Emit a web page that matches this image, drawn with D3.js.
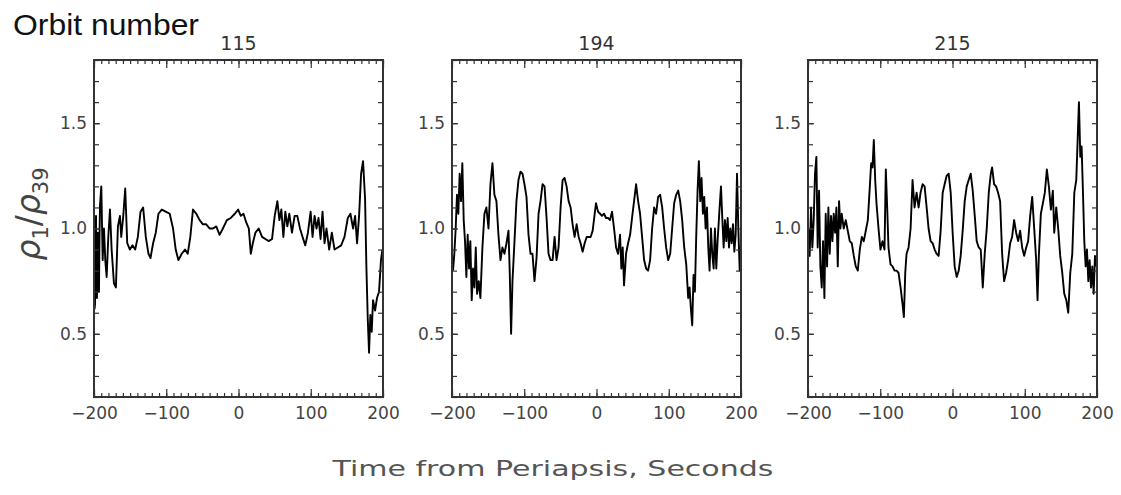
<!DOCTYPE html>
<html lang="en">
<head>
<meta charset="UTF-8">
<script src="https://d3js.org/d3.v7.min.js"></script>
<title>Orbit density ratio</title>
<style>
  body { margin: 0; background: #fff; }
  svg { display: block; }
</style>
</head>
<body>
<div id="chart"></div>
<script>

// orbit titles
const orbits = ["115", "194", "215"];

// tick values
const xMajorTicks = [-200, -100, 0, 100, 200];
const yMajorTicks = [0.5, 1.0, 1.5];

// [time (s), rho1/rho39]
const orbit115 = [
  [-200, 0.90], [-199.2, 0.62], [-198.6, 0.64], [-197.9, 0.95], [-197.2, 1.06], [-196.5, 0.72], [-195.9, 0.67],
  [-195.2, 0.88], [-194.5, 0.98], [-193.8, 0.75], [-193.1, 0.70], [-192.4, 0.95],
  [-191.7, 1.11], [-189.9, 1.20], [-188, 0.85], [-186.2, 1.00], [-184.4, 0.85], [-182.5, 0.77],
  [-180.2, 0.96], [-177.9, 1.09], [-175.6, 0.90], [-172.4, 0.74], [-169.7, 0.72], [-166.9, 1.01],
  [-164.1, 1.06], [-162.3, 0.96], [-159.5, 1.06], [-156.8, 1.19], [-154, 0.93], [-150.3, 0.90],
  [-146.7, 0.92], [-143, 0.90], [-139.3, 0.96], [-135.6, 1.08], [-132, 1.10], [-128.3, 0.96],
  [-124.6, 0.88], [-121.8, 0.86], [-118.2, 0.93], [-114.5, 0.98], [-110.8, 1.07], [-106.2, 1.09],
  [-100.7, 1.08], [-95.2, 1.07], [-90.6, 1.00], [-86.9, 0.90], [-83.2, 0.85], [-78.6, 0.88],
  [-74, 0.90], [-70.3, 0.88], [-66.7, 0.96], [-63, 1.09], [-58.4, 1.07], [-53.8, 1.04],
  [-49.2, 1.02], [-44.6, 1.02], [-40, 1.00], [-35.4, 1.00], [-30.8, 1.01], [-26.2, 0.97],
  [-21.6, 1.00], [-16.1, 1.04], [-10.6, 1.05], [-5.1, 1.07], [-0.5, 1.09], [3.2, 1.06],
  [6.9, 1.07], [10.6, 1.03], [14.3, 1.00], [17, 0.88], [19.8, 0.93], [23.4, 0.98],
  [28, 1.00], [32.6, 0.96], [37.2, 0.95], [41.8, 0.94], [46.4, 0.95], [50.1, 1.06],
  [53.8, 1.13], [56.6, 1.04], [59.3, 1.09], [62.1, 0.96], [64.8, 1.08], [67.6, 1.01],
  [70.3, 1.07], [74, 0.98], [77.7, 1.06], [81.4, 1.06], [85.1, 1.00], [88.7, 0.96],
  [92.4, 0.92], [96.1, 0.98], [99.8, 1.08], [102.5, 0.96], [105.3, 1.06], [108, 1.00],
  [110.8, 1.05], [113.6, 0.95], [116.3, 1.08], [119.1, 0.93], [121.8, 1.00], [125.5, 0.90],
  [129.2, 0.98], [132.9, 0.90], [137.5, 0.91], [142.1, 0.92], [146.7, 0.96], [151.3, 1.05],
  [154.9, 1.07], [158.6, 1.00], [161.4, 1.06], [164.1, 0.93], [166.9, 1.06], [169.7, 1.26],
  [172.4, 1.32], [175.2, 1.14], [177, 0.82], [178.9, 0.57], [180.7, 0.41], [182.5, 0.59],
  [184.4, 0.51], [186.2, 0.66], [189, 0.61], [191.7, 0.67], [194.5, 0.70], [197.2, 0.85],
  [199.1, 0.90]
];

const orbit194 = [
  [-198.6, 0.80], [-196.8, 0.88], [-194.9, 1.00], [-193.1, 1.16], [-191.2, 1.07], [-189.4, 1.26],
  [-187.5, 1.13], [-185.7, 1.31], [-183.8, 1.04], [-182, 0.94], [-180.1, 0.77], [-178.3, 0.97],
  [-176.4, 0.81], [-174.6, 0.94], [-172.7, 0.66], [-170.9, 0.81], [-169, 0.72], [-167.1, 0.91],
  [-165.3, 0.69], [-163, 0.75], [-160.7, 0.67], [-157.9, 0.91], [-155.1, 1.07], [-152.4, 1.10],
  [-149.5, 1.00], [-146.8, 1.21], [-144, 1.31], [-141.3, 1.16], [-138.5, 1.13], [-135.7, 0.97],
  [-132.9, 0.85], [-130.2, 0.91], [-127.4, 0.88], [-124.6, 0.93], [-121.8, 0.99], [-120, 0.78],
  [-118.2, 0.50], [-116.3, 0.75], [-113.5, 0.94], [-110.8, 1.13], [-108, 1.23], [-105.2, 1.27],
  [-102.4, 1.26], [-99.7, 1.21], [-96.9, 1.15], [-94.1, 0.97], [-91.3, 0.88], [-88.6, 0.88],
  [-85.8, 0.75], [-83, 0.86], [-80.2, 1.07], [-77.5, 1.13], [-74.7, 1.21], [-71.9, 1.20],
  [-69.1, 1.05], [-66.4, 0.88], [-63.6, 0.85], [-60.8, 0.85], [-58, 0.96], [-55.3, 0.85],
  [-52.5, 0.91], [-49.7, 1.10], [-46.9, 1.23], [-44.2, 1.24], [-41.4, 1.20], [-38.6, 1.13],
  [-35.8, 1.10], [-33.1, 1.02], [-30.3, 0.96], [-27.5, 1.02], [-24.7, 0.96], [-22, 0.93],
  [-19.2, 0.89], [-16.4, 0.93], [-13.6, 0.96], [-10.9, 0.96], [-8.1, 0.96], [-5.3, 0.99],
  [-2.5, 1.07], [-0.7, 1.12], [2.1, 1.08], [4.9, 1.07], [7.6, 1.06], [10.4, 1.07],
  [13.2, 1.05], [16, 1.05], [18.7, 1.04], [21.5, 1.08], [24.3, 1.00], [27.1, 0.91],
  [29.8, 0.88], [32.6, 0.97], [34.4, 0.81], [36.3, 0.91], [38.1, 0.73], [40.9, 0.88],
  [43.7, 0.93], [46.5, 0.97], [49.2, 1.05], [52, 1.13], [54.8, 1.21], [57.6, 1.13],
  [60.3, 1.07], [63.1, 0.96], [65.9, 0.85], [68.7, 0.81], [71.4, 0.80], [74.2, 0.85],
  [77, 1.00], [79.8, 1.10], [82.5, 1.07], [85.3, 1.15], [88.1, 1.16], [90.9, 1.10],
  [93.6, 1.00], [96.4, 0.91], [99.2, 0.85], [102, 0.88], [104.7, 1.00], [107.5, 1.12],
  [110.3, 1.16], [113.1, 1.18], [115.8, 1.13], [118.6, 1.04], [121.4, 0.91], [124.2, 0.83],
  [126.9, 0.67], [128.8, 0.72], [130.6, 0.62], [132.5, 0.54], [134.3, 0.78], [136.2, 0.70],
  [138, 0.96], [139.9, 1.18], [141.7, 1.32], [143.6, 1.13], [145.4, 1.24], [147.3, 1.07],
  [149.1, 1.15], [151, 1.00], [152.9, 1.10], [154.7, 0.91], [156.5, 0.80], [158.4, 1.00],
  [160.2, 0.88], [162.1, 0.81], [163.9, 1.00], [165.8, 0.81], [167.6, 0.94], [170.4, 1.10],
  [172.3, 1.20], [174.1, 1.05], [176, 0.91], [177.8, 1.04], [179.7, 0.94], [181.5, 1.05],
  [183.4, 0.91], [185.2, 1.00], [187.1, 0.93], [188.9, 1.02], [190.8, 0.89], [192.6, 0.97],
  [194.5, 1.26], [196.3, 1.00], [198.2, 0.80], [199.5, 0.91]
];

const orbit215 = [
  [-199.5, 1.00], [-197.7, 0.87], [-195.8, 1.10], [-194, 0.91], [-192.1, 1.04], [-190.3, 1.26],
  [-188.4, 1.34], [-186.6, 0.91], [-184.7, 1.18], [-182.9, 0.82], [-181, 0.72], [-179.2, 0.94],
  [-177.3, 0.67], [-175.5, 1.07], [-173.6, 0.82], [-171.8, 1.10], [-169.9, 0.88], [-168.1, 1.06],
  [-166.2, 0.94], [-164.4, 1.07], [-162.5, 0.98], [-160.7, 1.10], [-158.8, 0.82], [-157, 1.13],
  [-155.1, 1.00], [-153.3, 1.07], [-150.5, 1.00], [-147.7, 1.04], [-145, 0.99], [-142.2, 0.94],
  [-139.4, 0.93], [-136.6, 0.87], [-133.9, 0.82], [-131.1, 0.80], [-128.3, 0.90], [-125.5, 0.96],
  [-122.8, 0.94], [-120, 0.99], [-117.2, 1.04], [-114.4, 1.20], [-112.6, 1.31], [-110.7, 1.29],
  [-108.9, 1.42], [-107, 1.23], [-105.2, 1.12], [-102.4, 1.00], [-99.7, 0.90], [-96.9, 0.94],
  [-94.1, 0.90], [-92.3, 1.28], [-90.4, 1.10], [-88.6, 0.91], [-85.8, 0.83], [-83, 0.82],
  [-80.2, 0.80], [-77.5, 0.80], [-74.7, 0.79], [-71.9, 0.72], [-69.1, 0.64], [-67.3, 0.58],
  [-65.4, 0.79], [-63.6, 0.88], [-60.8, 0.91], [-58, 1.00], [-55.3, 1.23], [-52.5, 1.10],
  [-49.7, 1.17], [-46.9, 1.10], [-44.2, 1.17], [-41.4, 1.21], [-38.6, 1.20], [-35.8, 1.10],
  [-33.1, 1.00], [-30.3, 0.94], [-27.5, 0.93], [-24.7, 0.90], [-22, 0.88], [-19.2, 0.87],
  [-16.4, 0.99], [-13.6, 1.17], [-10.9, 1.21], [-8.1, 1.25], [-5.3, 1.26], [-2.5, 1.17],
  [0.2, 0.98], [3, 0.82], [5.8, 0.77], [8.6, 0.80], [11.3, 0.87], [14.1, 0.99],
  [16.9, 1.13], [19.7, 1.20], [22.4, 1.23], [25.2, 1.26], [28, 1.18], [30.8, 1.06],
  [33.5, 0.94], [36.3, 0.91], [39.1, 0.90], [41.9, 0.72], [44.6, 0.88], [47.4, 1.00],
  [50.2, 1.17], [53, 1.26], [54.8, 1.29], [57.6, 1.21], [60.3, 1.20], [63.1, 1.17],
  [65.9, 1.13], [68.7, 0.88], [71.4, 0.75], [74.2, 0.79], [77, 0.85], [79.8, 0.93],
  [82.5, 0.96], [85.3, 1.04], [88.1, 0.98], [90.9, 0.94], [93.6, 0.99], [96.4, 0.91],
  [99.2, 0.87], [102, 0.91], [104.7, 0.94], [107.5, 1.06], [110.3, 1.15], [113.1, 1.00],
  [115.8, 0.85], [117.7, 0.66], [119.5, 0.87], [122.3, 1.07], [125.1, 1.12], [127.8, 1.17],
  [130.6, 1.28], [133.4, 1.20], [136.2, 1.09], [138.9, 1.18], [140.8, 0.98], [143.6, 1.10],
  [146.3, 1.00], [149.1, 0.87], [151.9, 0.79], [154.7, 0.69], [157.5, 0.66], [160.2, 0.60],
  [163, 0.79], [165.8, 0.88], [168.6, 1.17], [171.3, 1.23], [173.2, 1.42], [175, 1.60],
  [176.9, 1.34], [178.7, 1.39], [180.6, 1.17], [182.4, 0.94], [184.3, 0.82], [186.1, 0.90],
  [188, 0.75], [189.8, 0.85], [191.7, 0.72], [193.5, 0.82], [195.4, 0.69], [197.2, 0.87],
  [199.1, 0.82]
];

const series = [orbit115, orbit194, orbit215];

const W = 1121, H = 495;
const panelLeft = [94, 452, 808];
const panelW = 289;
const plotTop = 60, plotBottom = 397;
const labelFont = "'DejaVu Sans', sans-serif";
const axisColor = "#333";

const svg = d3.select("#chart")
  .append("svg")
  .attr("width", W)
  .attr("height", H);

svg.append("text")
  .attr("x", 13)
  .attr("y", 35)
  .attr("font-family", "'Liberation Sans', Arial, sans-serif")
  .attr("font-size", 30)
  .attr("fill", "#111")
  .attr("textLength", 186)
  .attr("lengthAdjust", "spacingAndGlyphs")
  .text("Orbit number");

const y = d3.scaleLinear().domain([0.2, 1.8]).range([plotBottom, plotTop]);
const xMinor = d3.range(-200, 201, 10);
const yMinor = d3.range(2, 19).map(d => d / 10);

series.forEach((data, i) => {
  const x = d3.scaleLinear().domain([-200, 200]).range([panelLeft[i], panelLeft[i] + panelW]);
  const g = svg.append("g");

  // data line
  g.append("path")
    .datum(data)
    .attr("fill", "none")
    .attr("stroke", "#000")
    .attr("stroke-width", 1.9)
    .attr("stroke-linejoin", "round")
    .attr("d", d3.line().x(d => x(d[0])).y(d => y(d[1])));

  // ticks pointing inward on all four sides
  const addAxis = (axis, tx, ty, labels) => {
    const a = g.append("g")
      .attr("transform", `translate(${tx},${ty})`)
      .call(axis);
    a.select(".domain").remove();
    a.selectAll("line").attr("stroke", axisColor).attr("stroke-width", 1.2);
    a.selectAll("text")
      .attr("font-family", labelFont)
      .attr("font-size", 17)
      .attr("fill", "#444");
    if (!labels) a.selectAll("text").remove();
  };

  addAxis(d3.axisBottom(x).tickValues(xMinor).tickSize(-4).tickFormat(""), 0, plotBottom, false);
  addAxis(d3.axisBottom(x).tickValues(xMajorTicks).tickSize(-8).tickPadding(10), 0, plotBottom, true);
  addAxis(d3.axisTop(x).tickValues(xMinor).tickSize(-4).tickFormat(""), 0, plotTop, false);
  addAxis(d3.axisTop(x).tickValues(xMajorTicks).tickSize(-8), 0, plotTop, false);
  addAxis(d3.axisLeft(y).tickValues(yMinor).tickSize(-5).tickPadding(7).tickFormat(""), panelLeft[i], 0, false);
  addAxis(d3.axisLeft(y).tickValues(yMajorTicks).tickSize(-6).tickPadding(7).tickFormat(d3.format(".1f")), panelLeft[i], 0, true);
  addAxis(d3.axisRight(y).tickValues(yMinor).tickSize(-5).tickFormat(""), panelLeft[i] + panelW, 0, false);

  // frame
  g.append("rect")
    .attr("x", panelLeft[i])
    .attr("y", plotTop)
    .attr("width", panelW)
    .attr("height", plotBottom - plotTop)
    .attr("fill", "none")
    .attr("stroke", axisColor)
    .attr("stroke-width", 2);

  g.append("text")
    .attr("x", panelLeft[i] + panelW / 2)
    .attr("y", 50)
    .attr("text-anchor", "middle")
    .attr("font-family", labelFont)
    .attr("font-size", 19)
    .attr("fill", "#333")
    .text(orbits[i]);
});

// y axis title: rho_1 / rho_39
const yTitle = svg.append("text")
  .attr("transform", "translate(40,214) rotate(-90)")
  .attr("text-anchor", "middle")
  .attr("font-family", labelFont)
  .attr("font-size", 33)
  .attr("fill", "#444");
yTitle.append("tspan").attr("font-style", "italic").text("ρ");
yTitle.append("tspan").attr("font-size", 21).attr("dy", 8).text("1");
yTitle.append("tspan").attr("dy", -8).text("/");
yTitle.append("tspan").attr("font-style", "italic").text("ρ");
yTitle.append("tspan").attr("font-size", 21).attr("dy", 8).text("39");

svg.append("text")
  .attr("x", 553)
  .attr("y", 476)
  .attr("text-anchor", "middle")
  .attr("font-family", labelFont)
  .attr("font-size", 21)
  .attr("fill", "#555")
  .attr("textLength", 441)
  .attr("lengthAdjust", "spacingAndGlyphs")
  .text("Time from Periapsis, Seconds");

</script>
</body>
</html>
